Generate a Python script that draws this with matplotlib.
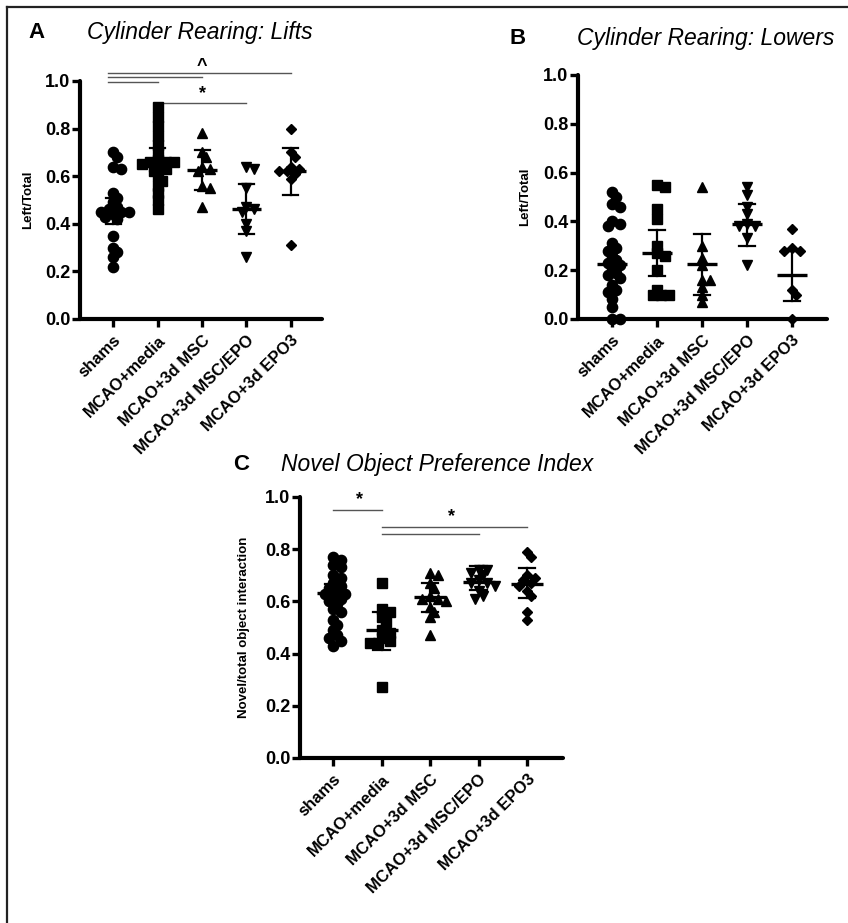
"""
Cylinder rearing and novel object preference: scatter with mean and error bars
"""

import numpy as np
import matplotlib
matplotlib.use('Agg')
import matplotlib.pyplot as plt
from matplotlib.lines import Line2D

plt.rcParams['font.family'] = ['Liberation Sans', 'DejaVu Sans']

groups = ['shams', 'MCAO+media', 'MCAO+3d MSC', 'MCAO+3d MSC/EPO', 'MCAO+3d EPO3']
markers = ['o', 's', '^', 'v', 'D']
marker_sizes = [7.4, 6.6, 7.6, 7.6, 5.0]

# A: Cylinder Rearing: Lifts (Left/Total)
lifts_shams = [0.70, 0.68, 0.64, 0.63, 0.53, 0.51, 0.49, 0.47, 0.46, 0.45, 0.45,
               0.45, 0.44, 0.43, 0.42, 0.35, 0.30, 0.28, 0.26, 0.22]
lifts_media = [0.89, 0.85, 0.81, 0.77, 0.73, 0.70, 0.67, 0.66, 0.66, 0.66, 0.65,
               0.64, 0.63, 0.62, 0.60, 0.58, 0.56, 0.53, 0.50, 0.46]
lifts_msc = [0.78, 0.70, 0.68, 0.64, 0.63, 0.62, 0.56, 0.55, 0.47]
lifts_msc_epo = [0.64, 0.63, 0.55, 0.47, 0.46, 0.45, 0.40, 0.37, 0.26]
lifts_epo3 = [0.80, 0.70, 0.68, 0.64, 0.63, 0.62, 0.62, 0.61, 0.59, 0.31]
lifts_mean = [0.455, 0.65, 0.625, 0.46, 0.62]
lifts_lo = [0.40, 0.62, 0.54, 0.355, 0.52]
lifts_hi = [0.51, 0.72, 0.71, 0.565, 0.72]

# B: Cylinder Rearing: Lowers (Left/Total)
lowers_shams = [0.52, 0.50, 0.47, 0.46, 0.40, 0.39, 0.38, 0.31, 0.29, 0.28, 0.26,
                0.24, 0.23, 0.22, 0.21, 0.19, 0.18, 0.17, 0.14, 0.12, 0.11, 0.08,
                0.05, 0.0, 0.0]
lowers_media = [0.55, 0.54, 0.45, 0.41, 0.30, 0.27, 0.26, 0.20, 0.12, 0.10, 0.10, 0.10]
lowers_msc = [0.54, 0.30, 0.25, 0.22, 0.16, 0.16, 0.13, 0.10, 0.07]
lowers_msc_epo = [0.54, 0.51, 0.46, 0.43, 0.39, 0.38, 0.38, 0.33, 0.22]
lowers_epo3 = [0.37, 0.29, 0.28, 0.28, 0.12, 0.10, 0.0]
lowers_mean = [0.225, 0.27, 0.225, 0.39, 0.18]
lowers_lo = [0.18, 0.175, 0.10, 0.30, 0.075]
lowers_hi = [0.28, 0.365, 0.35, 0.47, 0.28]

# C: Novel Object Preference Index
novel_shams = [0.77, 0.76, 0.74, 0.73, 0.70, 0.69, 0.67, 0.66, 0.65, 0.64, 0.63,
               0.63, 0.62, 0.61, 0.60, 0.59, 0.57, 0.56, 0.53, 0.51, 0.49, 0.47,
               0.46, 0.45, 0.43]
novel_media = [0.67, 0.57, 0.56, 0.54, 0.52, 0.49, 0.48, 0.46, 0.45, 0.44, 0.44, 0.27]
novel_msc = [0.71, 0.70, 0.67, 0.65, 0.62, 0.61, 0.61, 0.60, 0.58, 0.56, 0.54, 0.47]
novel_msc_epo = [0.72, 0.72, 0.71, 0.70, 0.68, 0.67, 0.67, 0.66, 0.64, 0.62, 0.61]
novel_epo3 = [0.79, 0.77, 0.70, 0.69, 0.68, 0.67, 0.66, 0.64, 0.62, 0.56, 0.53]
novel_mean = [0.632, 0.49, 0.615, 0.675, 0.667]
novel_lo = [0.60, 0.415, 0.56, 0.645, 0.613]
novel_hi = [0.665, 0.56, 0.67, 0.735, 0.728]

# significance bars: (start group, end group, height)
lifts_bars = [(-0.12, 4, 1.034), (-0.12, 2, 1.017), (-0.12, 1, 0.996), (1, 3, 0.908)]
lifts_marks = [(2, 1.06, '^'), (2, 0.945, '*')]
novel_bars = [(0, 1, 0.950), (1, 4, 0.885), (1, 3, 0.858)]
novel_marks = [(0.55, 0.99, '*'), (2.45, 0.925, '*')]


def swarm(values, px_x, px_y, diam):
    # spread overlapping points sideways, in pixel space (some overlap allowed)
    step = diam * 0.4
    order = [0]
    for i in range(1, 30):
        order += [i, -i]
    placed = []
    offsets = []
    for v in values:
        for k in order:
            xo = k * step
            ok = True
            for px, py in placed:
                if (xo - px) ** 2 + ((v - py) * px_y) ** 2 < (diam * 0.62) ** 2:
                    ok = False
                    break
            if ok:
                break
        placed.append((xo, v))
        offsets.append(xo / px_x)
    return offsets


def draw_panel(ax, data, mean, lo, hi, xlim, ylabel, bars=(), marks=()):
    fig = ax.figure
    bbox = ax.get_position()
    w_px = bbox.width * fig.get_figwidth() * fig.dpi
    h_px = bbox.height * fig.get_figheight() * fig.dpi
    px_x = w_px / (xlim[1] - xlim[0])
    px_y = h_px / 1.0

    for i, vals in enumerate(data):
        offs = swarm(vals, px_x, px_y, 10)
        ax.plot(np.array(offs) + i, vals, linestyle='none', marker=markers[i],
                markersize=marker_sizes[i], color='black', clip_on=False, zorder=3)
        ax.plot([i - 0.33, i + 0.33], [mean[i], mean[i]], color='black', lw=2.4,
                zorder=4, solid_capstyle='butt')
        ax.plot([i, i], [lo[i], hi[i]], color='black', lw=1.6, zorder=4)
        for y in (lo[i], hi[i]):
            ax.plot([i - 0.17, i + 0.17], [y, y], color='black', lw=1.6, zorder=4)

    for x0, x1, y in bars:
        ax.add_line(Line2D([x0, x1], [y, y], color='#555555', lw=1.0, clip_on=False))
    for x, y, s in marks:
        ax.text(x, y, s, ha='center', va='center', fontsize=13, fontweight='bold',
                clip_on=False)

    ax.set_xlim(xlim)
    ax.set_ylim(0, 1.0)
    ax.set_yticks([0.0, 0.2, 0.4, 0.6, 0.8, 1.0])
    ax.set_yticklabels(['0.0', '0.2', '0.4', '0.6', '0.8', '1.0'],
                       fontsize=13, fontweight='bold')
    ax.set_xticks(range(len(groups)))
    ax.set_xticklabels(groups, rotation=45, ha='right', va='top',
                       rotation_mode='anchor', fontsize=12, fontweight='bold')
    ax.tick_params(axis='both', direction='out', length=6, width=2.4, pad=1)
    ax.tick_params(axis='x', pad=4)
    for side in ('top', 'right'):
        ax.spines[side].set_visible(False)
    for side in ('left', 'bottom'):
        ax.spines[side].set_linewidth(3)
        ax.spines[side].set_capstyle('round')
    ax.set_ylabel(ylabel, fontsize=9.5, fontweight='bold')
    ax.yaxis.set_label_coords(-0.19, 0.5)
    ax.set_facecolor('none')


fig = plt.figure(figsize=(8.48, 9.23), dpi=100)

ax_a = fig.add_axes([0.0943, 0.6544, 0.2854, 0.2579])
ax_b = fig.add_axes([0.6816, 0.6544, 0.2936, 0.2644])
ax_c = fig.add_axes([0.3538, 0.1788, 0.3101, 0.2828])

draw_panel(ax_a, [lifts_shams, lifts_media, lifts_msc, lifts_msc_epo, lifts_epo3],
           lifts_mean, lifts_lo, lifts_hi, (-0.75, 4.7), 'Left/Total',
           lifts_bars, lifts_marks)
draw_panel(ax_b, [lowers_shams, lowers_media, lowers_msc, lowers_msc_epo, lowers_epo3],
           lowers_mean, lowers_lo, lowers_hi, (-0.76, 4.78), 'Left/Total')
draw_panel(ax_c, [novel_shams, novel_media, novel_msc, novel_msc_epo, novel_epo3],
           novel_mean, novel_lo, novel_hi, (-0.68, 4.74),
           'Novel/total object interaction', novel_bars, novel_marks)

fig.text(28 / 848, 1 - 33 / 923, 'A', fontsize=16, fontweight='bold', va='center')
fig.text(87 / 848, 1 - 33 / 923, 'Cylinder Rearing: Lifts', fontsize=16.5,
         style='italic', va='center')
fig.text(510 / 848, 1 - 38 / 923, 'B', fontsize=16, fontweight='bold', va='center')
fig.text(577 / 848, 1 - 38 / 923, 'Cylinder Rearing: Lowers', fontsize=16.5,
         style='italic', va='center')
fig.text(233 / 848, 1 - 465 / 923, 'C', fontsize=16, fontweight='bold', va='center')
fig.text(281 / 848, 1 - 465 / 923, 'Novel Object Preference Index', fontsize=16.5,
         style='italic', va='center')

# frame lines at the left and top edge
fig.add_artist(Line2D([7 / 848, 7 / 848], [0, 1 - 7 / 923], color='#222222', lw=1.6))
fig.add_artist(Line2D([7 / 848, 1], [1 - 7 / 923, 1 - 7 / 923], color='#222222', lw=1.6))

fig.savefig('out.png', dpi=100)
